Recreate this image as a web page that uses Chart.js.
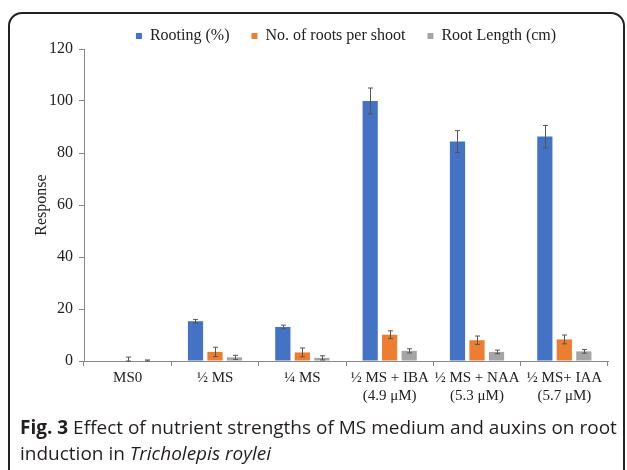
<!DOCTYPE html>
<html>
<head>
<meta charset="utf-8">
<script src="https://cdn.jsdelivr.net/npm/chart.js@4.4.1/dist/chart.umd.min.js"></script>
<style>
  html, body { margin: 0; padding: 0; background: #fff; }
  body { width: 627px; height: 470px; position: relative; overflow: hidden; }
  .frame {
    position: absolute; left: 8px; top: 12px; width: 617px; height: 500px;
    border: 2px solid #222; border-radius: 14px; box-sizing: border-box;
  }
  #wrap { position: absolute; left: 0; top: 0; width: 627px; height: 470px; }
  .caption {
    position: absolute; left: 20px; top: 414px; width: 605px;
    font-family: "Open Sans", sans-serif; font-size: 19px; line-height: 26px;
    color: #231f20; white-space: nowrap;
  }
</style>
</head>
<body>
<div class="frame"></div>
<div id="wrap"><canvas id="chart"></canvas></div>
<div class="caption"><b>Fig. 3</b> Effect of nutrient strengths of MS medium and auxins on root<br>induction in <i>Tricholepis roylei</i></div>
<script>
// data
const categories = [
    'MS0',
    '½ MS',
    '¼ MS',
    ['½ MS + IBA', '(4.9 μM)'],
    ['½ MS + NAA', '(5.3 μM)'],
    ['½ MS+ IAA', '(5.7 μM)']
];
const rooting = [0, 15.3, 13.1, 100, 84.4, 86.3];
const rootingErr = [0, 0.7, 0.7, 5, 4.2, 4.3];
const rootsPerShoot = [0, 3.5, 3.3, 10.1, 8.0, 8.3];
const rootsPerShootErr = [1.5, 1.8, 1.7, 1.5, 1.6, 1.7];
const rootLength = [0, 1.4, 1.2, 3.9, 3.5, 3.7];
const rootLengthErr = [0.4, 0.8, 0.8, 0.8, 0.7, 0.7];
const yTicks = [0, 20, 40, 60, 80, 100, 120];

const serif = "'Liberation Serif', 'Times New Roman', serif";

// error bars drawn from the arrays above through the y scale
const errorBars = {
    id: 'errorBars',
    afterDatasetsDraw(chart) {
        const ctx = chart.ctx;
        const yScale = chart.scales.y;
        ctx.save();
        ctx.strokeStyle = '#555';
        ctx.lineWidth = 1;
        chart.data.datasets.forEach(function(ds, i) {
            const meta = chart.getDatasetMeta(i);
            meta.data.forEach(function(bar, j) {
                const err = ds.errors[j];
                if (!err) return;
                const x = Math.round(bar.x) + 0.5;
                const top = yScale.getPixelForValue(ds.data[j] + err);
                const bot = yScale.getPixelForValue(Math.max(0, ds.data[j] - err));
                ctx.beginPath();
                ctx.moveTo(x, top); ctx.lineTo(x, bot);
                ctx.moveTo(x - 2.5, top); ctx.lineTo(x + 2.5, top);
                ctx.moveTo(x - 2.5, bot); ctx.lineTo(x + 2.5, bot);
                ctx.stroke();
            });
        });
        ctx.restore();
    }
};

// legend sits a bit closer to the plot than Chart.js allows by default
const legendTrim = {
    id: 'legendTrim',
    beforeLayout(chart) {
        const lg = chart.legend;
        if (lg && !lg._trimmed) {
            const fit = lg.fit;
            lg.fit = function() { fit.call(this); this.height -= 5; };
            lg._trimmed = true;
        }
    }
};

new Chart(document.getElementById('chart'), {
    type: 'bar',
    data: {
        labels: categories,
        datasets: [{
            label: 'Rooting (%)',
            data: rooting,
            errors: rootingErr,
            backgroundColor: '#4472C4'
        }, {
            label: 'No. of roots per shoot',
            data: rootsPerShoot,
            errors: rootsPerShootErr,
            backgroundColor: '#ED7D31'
        }, {
            label: 'Root Length (cm)',
            data: rootLength,
            errors: rootLengthErr,
            backgroundColor: '#A5A5A5'
        }]
    },
    options: {
        responsive: true,
        maintainAspectRatio: false,
        animation: false,
        datasets: {
            bar: {
                categoryPercentage: 0.67,
                barPercentage: 0.78
            }
        },
        layout: {
            padding: { left: 0, right: 19, top: 6, bottom: 0 }
        },
        plugins: {
            legend: {
                display: true,
                position: 'top',
                fullSize: false,
                labels: {
                    color: '#222',
                    boxWidth: 6,
                    boxHeight: 6,
                    padding: 22,
                    font: { family: serif, size: 16 }
                }
            },
            tooltip: { enabled: false }
        },
        scales: {
            y: {
                min: 0,
                max: 120,
                afterBuildTicks: function(s) {
                    s.ticks = yTicks.map(function(v) { return { value: v }; });
                },
                afterFit: function(s) { s.width = 84; },
                grid: {
                    drawOnChartArea: false,
                    drawTicks: true,
                    tickLength: 5,
                    color: '#888'
                },
                border: { display: true, color: '#888' },
                ticks: {
                    color: '#222',
                    padding: 6,
                    font: { family: serif, size: 16 }
                },
                title: {
                    display: true,
                    text: 'Response',
                    color: '#222',
                    padding: { top: 32, bottom: 0 },
                    font: { family: serif, size: 16 }
                }
            },
            x: {
                afterFit: function(s) { s.height = 109; },
                grid: {
                    offset: true,
                    drawOnChartArea: false,
                    drawTicks: true,
                    tickLength: 5,
                    color: '#888'
                },
                border: { display: true, color: '#888' },
                ticks: {
                    color: '#222',
                    padding: 3,
                    maxRotation: 0,
                    autoSkip: false,
                    font: { family: serif, size: 15, lineHeight: 1.2 }
                }
            }
        }
    },
    plugins: [errorBars, legendTrim]
});
</script>
</body>
</html>
